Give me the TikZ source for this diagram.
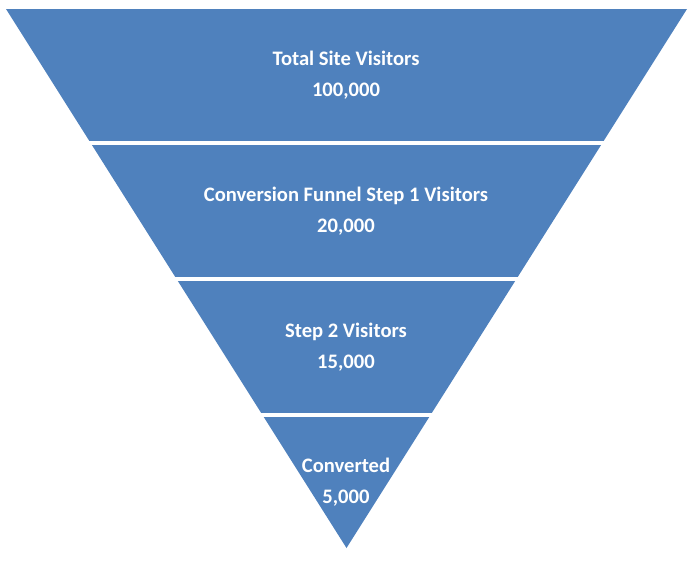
\documentclass[tikz,border=0pt]{standalone}
\usepackage{fontspec}
\setmainfont{Carlito}
\usetikzlibrary{positioning}
\definecolor{funnelblue}{RGB}{79,129,189}

\begin{document}
\begin{tikzpicture}[x=1pt, y=-1pt,
            gapline/.style={white, line width=4pt},
            labelnode/.style={text=white, align=center, font=\bfseries\fontsize{20.6}{31.5}\selectfont}]
            \useasboundingbox (0,0) rectangle (700,566);
            % Funnel outline
            \coordinate (TL) at (6,9);
            \coordinate (TR) at (687,9);
            \coordinate (A) at (346.5,548);
            \fill[funnelblue] (TL) -- (TR) -- (A) -- cycle;
            
            % White gaps between the steps
            \draw[gapline] (0,143) -- (700,143);
            \draw[gapline] (0,279) -- (700,279);
            \draw[gapline] (0,415) -- (700,415);
            
            % Step labels
            \node[labelnode] (total) at (346,75) {Total Site Visitors\\100,000};
            \node[labelnode] (step1) at (346,211) {Conversion Funnel Step 1 Visitors\\20,000};
            \node[labelnode] (step2) at (346,347) {Step 2 Visitors\\15,000};
            \node[labelnode] (conv) at (346,482) {Converted\\5,000};
        \end{tikzpicture}
\end{document}
